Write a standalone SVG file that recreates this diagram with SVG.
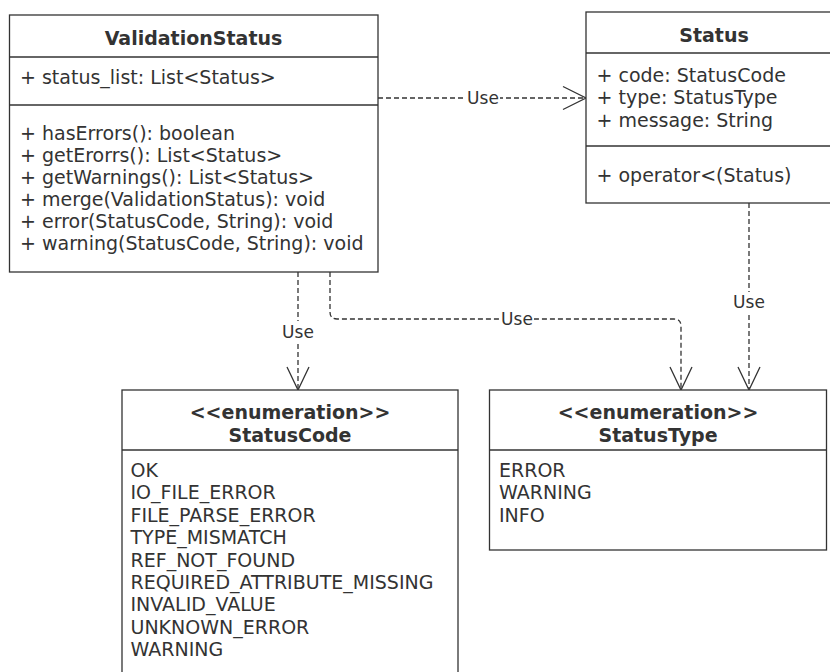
<svg xmlns="http://www.w3.org/2000/svg" width="830" height="672" viewBox="0 0 830 672">
<style>
.box{fill:#fff;stroke:#333;stroke-width:1.3}
.sep{stroke:#333;stroke-width:1.3}
.t{font-family:"DejaVu Sans",sans-serif;font-size:19px;fill:#333}
.b{font-family:"DejaVu Sans",sans-serif;font-size:19px;font-weight:bold;fill:#333;text-anchor:middle}
.c{fill:none;stroke:#333;stroke-width:1.3;stroke-dasharray:5 3}
.a{fill:none;stroke:#333;stroke-width:1.3}
.lbl{font-family:"DejaVu Sans",sans-serif;font-size:17px;fill:#333;text-anchor:middle}
.bg{fill:#fff}
</style>
<rect width="830" height="672" fill="#fff"/>
<g id="connectors">
  <path class="c" d="M378,98 H584"/>
  <path class="a" d="M563,86.5 L586,98 L563,109.5"/>
  <rect class="bg" x="466" y="88" width="34" height="20"/>
  <text class="lbl" x="483" y="104">Use</text>

  <path class="c" d="M298,272 V388"/>
  <path class="a" d="M287,367 L298,390 L309,367"/>
  <rect class="bg" x="281" y="321" width="34" height="20"/>
  <text class="lbl" x="298" y="338">Use</text>

  <path class="c" d="M330,272 V312 Q330,319 337,319 H674 Q681,319 681,326 V388"/>
  <path class="a" d="M670,367 L681,390 L692,367"/>
  <rect class="bg" x="500" y="309" width="34" height="20"/>
  <text class="lbl" x="517" y="325">Use</text>

  <path class="c" d="M749,203 V388"/>
  <path class="a" d="M738,367 L749,390 L760,367"/>
  <rect class="bg" x="732" y="292" width="34" height="20"/>
  <text class="lbl" x="749" y="308">Use</text>
</g>
<g id="ValidationStatus">
  <rect class="box" x="9.5" y="15" width="368.5" height="257"/>
  <line class="sep" x1="9.5" y1="57" x2="378" y2="57"/>
  <line class="sep" x1="9.5" y1="105" x2="378" y2="105"/>
  <text class="b" x="193.5" y="45">ValidationStatus</text>
  <text class="t" x="20" y="84">+ status_list: List&lt;Status&gt;</text>
  <text class="t" x="20" y="139.5">+ hasErrors(): boolean</text>
  <text class="t" x="20" y="161.6">+ getErorrs(): List&lt;Status&gt;</text>
  <text class="t" x="20" y="183.7">+ getWarnings(): List&lt;Status&gt;</text>
  <text class="t" x="20" y="205.8">+ merge(ValidationStatus): void</text>
  <text class="t" x="20" y="227.9">+ error(StatusCode, String): void</text>
  <text class="t" x="20" y="250">+ warning(StatusCode, String): void</text>
</g>
<g id="Status">
  <rect class="box" x="586" y="12" width="256" height="191"/>
  <line class="sep" x1="586" y1="53" x2="842" y2="53"/>
  <line class="sep" x1="586" y1="146" x2="842" y2="146"/>
  <text class="b" x="714" y="42">Status</text>
  <text class="t" x="596.5" y="82">+ code: StatusCode</text>
  <text class="t" x="596.5" y="104.3">+ type: StatusType</text>
  <text class="t" x="596.5" y="126.6">+ message: String</text>
  <text class="t" x="596.5" y="182">+ operator&lt;(Status)</text>
</g>
<g id="StatusCode">
  <rect class="box" x="122" y="390" width="336" height="300"/>
  <line class="sep" x1="122" y1="450" x2="458" y2="450"/>
  <text class="b" x="290" y="418.5">&lt;&lt;enumeration&gt;&gt;</text>
  <text class="b" x="290" y="442">StatusCode</text>
  <text class="t" x="130.5" y="477">OK</text>
  <text class="t" x="130.5" y="499.4">IO_FILE_ERROR</text>
  <text class="t" x="130.5" y="521.8">FILE_PARSE_ERROR</text>
  <text class="t" x="130.5" y="544.2">TYPE_MISMATCH</text>
  <text class="t" x="130.5" y="566.6">REF_NOT_FOUND</text>
  <text class="t" x="130.5" y="589">REQUIRED_ATTRIBUTE_MISSING</text>
  <text class="t" x="130.5" y="611.4">INVALID_VALUE</text>
  <text class="t" x="130.5" y="633.8">UNKNOWN_ERROR</text>
  <text class="t" x="130.5" y="656.2">WARNING</text>
</g>
<g id="StatusType">
  <rect class="box" x="489.5" y="390" width="337" height="160"/>
  <line class="sep" x1="489.5" y1="450" x2="826.5" y2="450"/>
  <text class="b" x="658" y="418.5">&lt;&lt;enumeration&gt;&gt;</text>
  <text class="b" x="658" y="442">StatusType</text>
  <text class="t" x="499" y="477">ERROR</text>
  <text class="t" x="499" y="499.4">WARNING</text>
  <text class="t" x="499" y="521.8">INFO</text>
</g>
</svg>
